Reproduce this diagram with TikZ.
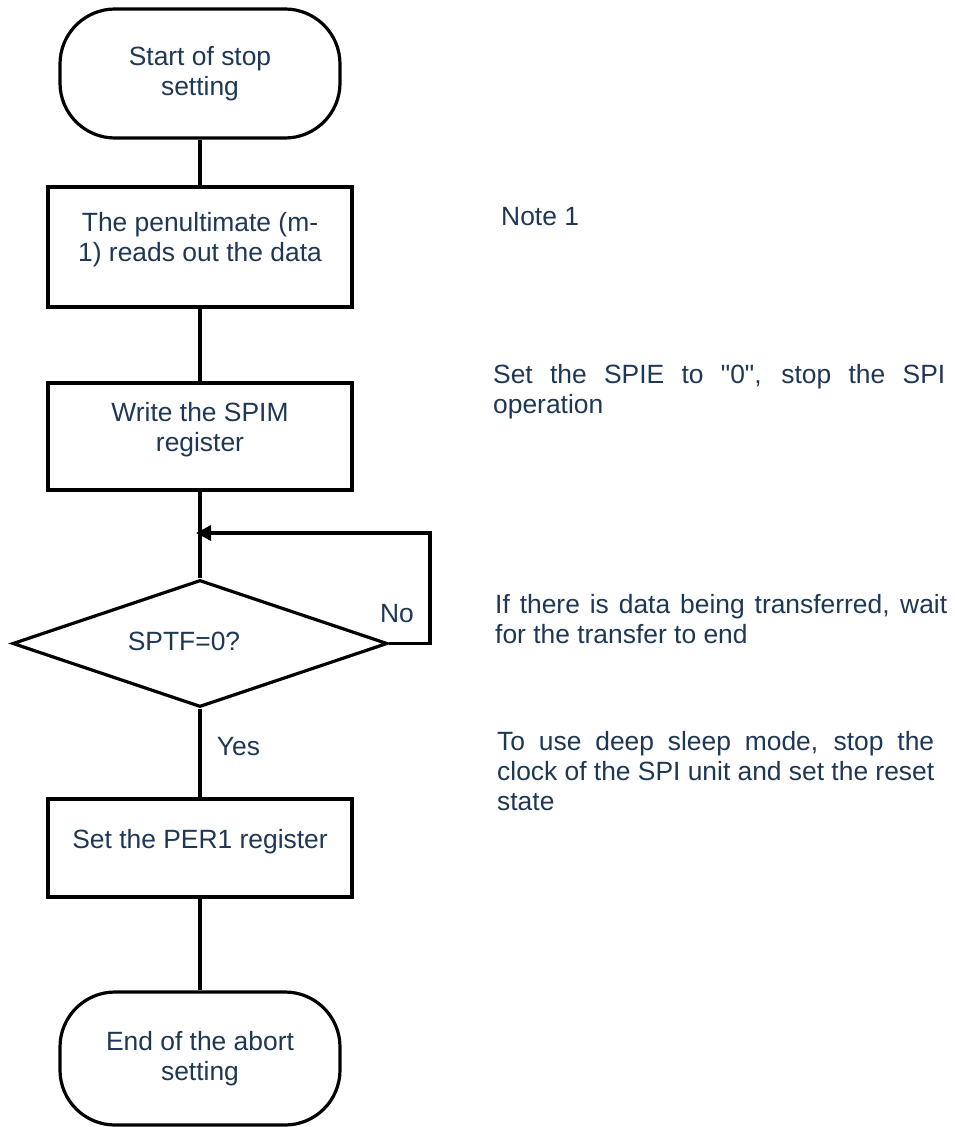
\documentclass[tikz,border=0pt]{standalone}
\usepackage{fontspec}
\setmainfont{Liberation Sans}[Ligatures=TeXOff]
\usetikzlibrary{arrows.meta,shapes.geometric}
\definecolor{txt}{RGB}{30,55,85}
\begin{document}
\begin{tikzpicture}[x=1pt,y=-1pt,
  every node/.style={font=\fontsize{26.4}{30}\selectfont, text=txt},
  term/.style={draw=black, line width=3.2pt, rounded corners=55pt, minimum width=280pt, minimum height=129pt, align=center, inner sep=0pt},
  proc/.style={draw=black, line width=3.2pt, minimum width=304pt, inner sep=0pt},
  dec/.style={draw=black, line width=3.2pt, diamond, minimum width=375pt, minimum height=127pt, inner sep=0pt},
  inlbl/.style={align=center, inner sep=0pt},
  conn/.style={line width=3.2pt, draw=black},
  note/.style={anchor=base west, align=left, inner sep=0pt}
  ]
\useasboundingbox (0,0) rectangle (954,1127);

\node[term] (s) at (200,73.5) {Start of stop\\setting};
\node[proc, minimum height=120pt,
  label={[inlbl, yshift=7pt]center:{The penultimate (m-\\1) reads out the data}}] (b2) at (200,247) {};
\node[proc, minimum height=107pt,
  label={[inlbl, yshift=7pt]center:{Write the SPIM\\register}}] (b3) at (200,436.5) {};
\node[dec, label={[inlbl, xshift=-16pt, yshift=2pt]center:{SPTF=0?}}] (d) at (200,643.5) {};
\node[proc, minimum height=98pt,
  label={[inlbl, yshift=6pt]center:{Set the PER1 register}}] (b4) at (200,848) {};
\node[term, minimum height=133pt] (e) at (200,1058.5) {End of the abort\\setting};

\coordinate (j) at (200,533);

\draw[conn] (s) -- (b2);
\draw[conn] (b2) -- (b3);
\draw[conn] (b3) -- (d);
\draw[conn] (d) -- (b4);
\draw[conn] (b4) -- (e);
\draw[conn, -{Triangle[length=15pt,width=15pt]}, shorten >=-4pt] (d.east) -- (430,643.5) |- (j);

\node[inner sep=0pt] (no) at (397,614) {No};
\node[inner sep=0pt] (yes) at (238.5,747) {Yes};

\node[note] (n1) at (501,225) {Note 1};
\node[note] (n2) at (493,413) {\makebox[452pt][s]{Set the SPIE to "0", stop the SPI}\\operation};
\node[note] (n3) at (495,643) {\makebox[452pt][s]{If there is data being transferred, wait}\\for the transfer to end};
\node[note] (n4) at (497,810) {\makebox[437pt][s]{To use deep sleep mode, stop the}\\\makebox[437pt][s]{clock of the SPI unit and set the reset}\\state};
\end{tikzpicture}
\end{document}
